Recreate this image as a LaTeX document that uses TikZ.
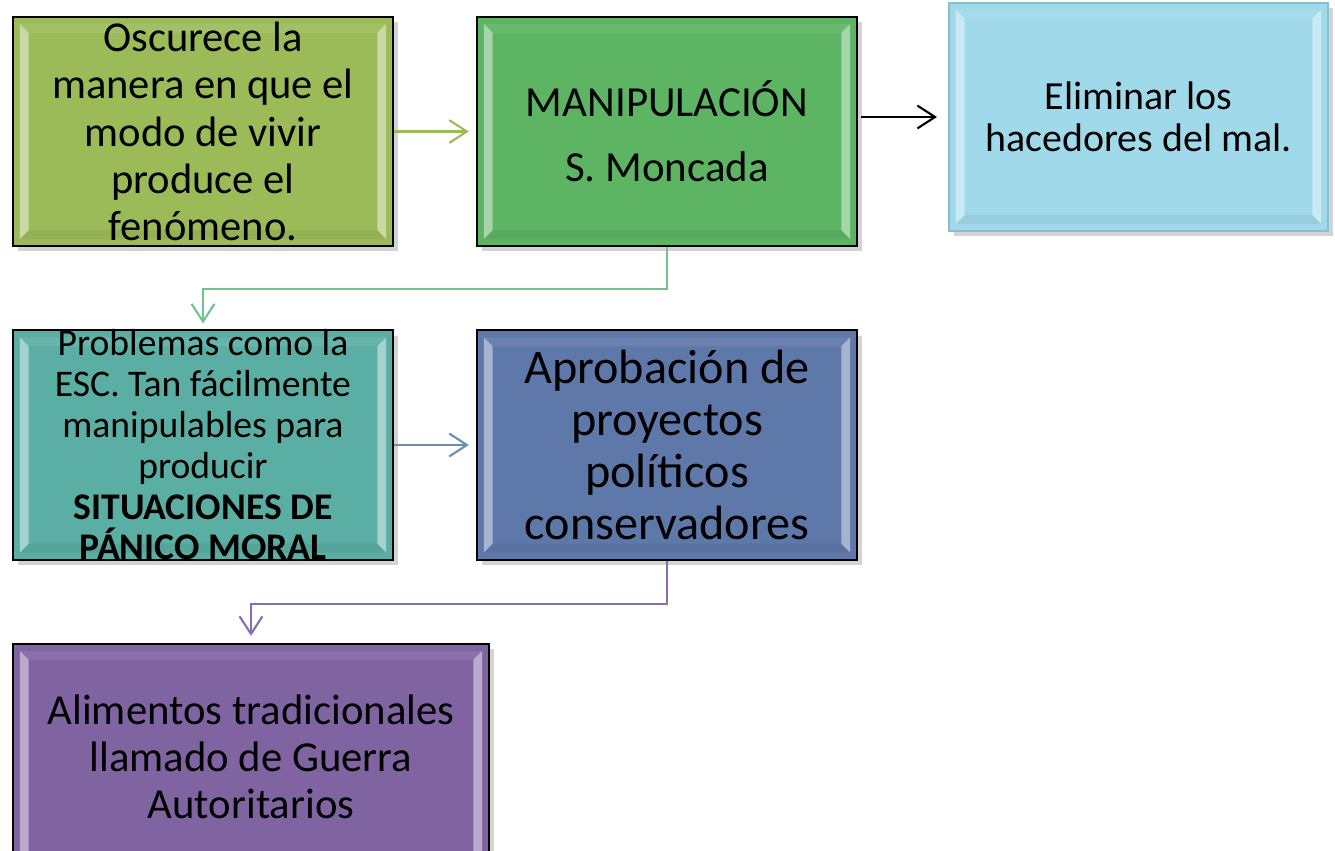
\documentclass[tikz,border=0pt]{standalone}
\usepackage{fontspec}
\setmainfont{Carlito}
\usetikzlibrary{arrows.meta,shadows}

\definecolor{olive}{HTML}{9BBB59}
\definecolor{leaf}{HTML}{5DB463}
\definecolor{sky}{HTML}{A0D9EA}
\definecolor{skyline}{HTML}{86BFD0}
\definecolor{teal}{HTML}{5BAEA3}
\definecolor{steel}{HTML}{5F78AA}
\definecolor{plum}{HTML}{8064A2}
\definecolor{leafarrow}{HTML}{72C28F}
\definecolor{steelarrow}{HTML}{6A8FB0}
\definecolor{plumarrow}{HTML}{8A6DAE}

% light side strips of the bevelled boxes
\newcommand\boxbevel{%
  \fill[white,opacity=.45]
    ([shift={(2pt,-2pt)}]path picture bounding box.north west) --
    ([shift={(4.5pt,-4.5pt)}]path picture bounding box.north west) --
    ([shift={(4.5pt,4.5pt)}]path picture bounding box.south west) --
    ([shift={(2pt,2pt)}]path picture bounding box.south west) -- cycle;
  \fill[white,opacity=.45]
    ([shift={(-2pt,-2pt)}]path picture bounding box.north east) --
    ([shift={(-4.5pt,-4.5pt)}]path picture bounding box.north east) --
    ([shift={(-4.5pt,4.5pt)}]path picture bounding box.south east) --
    ([shift={(-2pt,2pt)}]path picture bounding box.south east) -- cycle;
  \fill[white,opacity=.08]
    ([shift={(2pt,-2pt)}]path picture bounding box.north west) --
    ([shift={(-2pt,-2pt)}]path picture bounding box.north east) --
    ([shift={(-4.5pt,-4.5pt)}]path picture bounding box.north east) --
    ([shift={(4.5pt,-4.5pt)}]path picture bounding box.north west) -- cycle;
  \fill[black,opacity=.05]
    ([shift={(2pt,2pt)}]path picture bounding box.south west) --
    ([shift={(-2pt,2pt)}]path picture bounding box.south east) --
    ([shift={(-4.5pt,4.5pt)}]path picture bounding box.south east) --
    ([shift={(4.5pt,4.5pt)}]path picture bounding box.south west) -- cycle;
}

\tikzset{
  box/.style={draw=black, line width=0.6pt, inner sep=0pt,
    minimum width=3.8cm, minimum height=2.29cm,
    drop shadow={shadow xshift=1.5pt, shadow yshift=-1.5pt, opacity=.35},
    path picture={\boxbevel}},
  boxtext/.style={align=center, text=black, inner sep=0pt},
  link/.style={line width=0.6pt, -{Straight Barb[length=5pt,width=6.5pt]}},
}

\begin{document}
\begin{tikzpicture}[x=0.01cm,y=-0.01cm]
  \useasboundingbox (0,0) rectangle (1335,851);

  \node[box, fill=olive] (A) at (203,131.5) {};
  \node[box, fill=leaf]  (B) at (667,131.5) {};
  \node[box, fill=sky, draw=skyline, minimum width=3.79cm, minimum height=2.28cm] (C) at (1138.5,117) {};
  \node[box, fill=teal]  (D) at (203,445) {};
  \node[box, fill=steel] (E) at (667,445) {};
  \node[box, fill=plum, minimum width=4.76cm, minimum height=2.32cm] (F) at (251,760) {};

  \node[boxtext, font=\fontsize{12.1}{13.4}\selectfont] (At) at (A)
    {Oscurece la\\manera en que el\\modo de vivir\\produce el\\fenómeno.};
  \node[boxtext, font=\fontsize{12.2}{18.4}\selectfont] (Bt) at (B)
    {MANIPULACIÓN\\S. Moncada};
  \node[boxtext, font=\fontsize{11.35}{12}\selectfont] (Ct) at (C)
    {Eliminar los\\hacedores del mal.};
  \node[boxtext, font=\fontsize{10.7}{11.6}\selectfont] (Dt) at (D)
    {Problemas como la\\ESC. Tan fácilmente\\manipulables para\\producir\\\textbf{SITUACIONES DE}\\\textbf{PÁNICO MORAL}};
  \node[boxtext, font=\fontsize{13.7}{14.8}\selectfont] (Et) at (E)
    {Aprobación de\\proyectos\\políticos\\conservadores};
  \node[boxtext, font=\fontsize{12.15}{13.4}\selectfont] (Ft) at (251,757)
    {Alimentos tradicionales\\llamado de Guerra\\Autoritarios};

  \draw[link, olive, shorten >=2pt] (A) -- (B);
  \draw[link, black, shorten <=0.85pt, shorten >=3.1pt] (B.east |- C.west) -- (C.west);
  \draw[link, leafarrow, shorten >=1.7pt] (B.south) -- ++(0,42) -| (D.north);
  \draw[link, steelarrow, shorten >=2pt] (D) -- (E);
  \draw[link, plumarrow, shorten >=2pt] (E.south) -- ++(0,43) -| (F.north);
\end{tikzpicture}
\end{document}
